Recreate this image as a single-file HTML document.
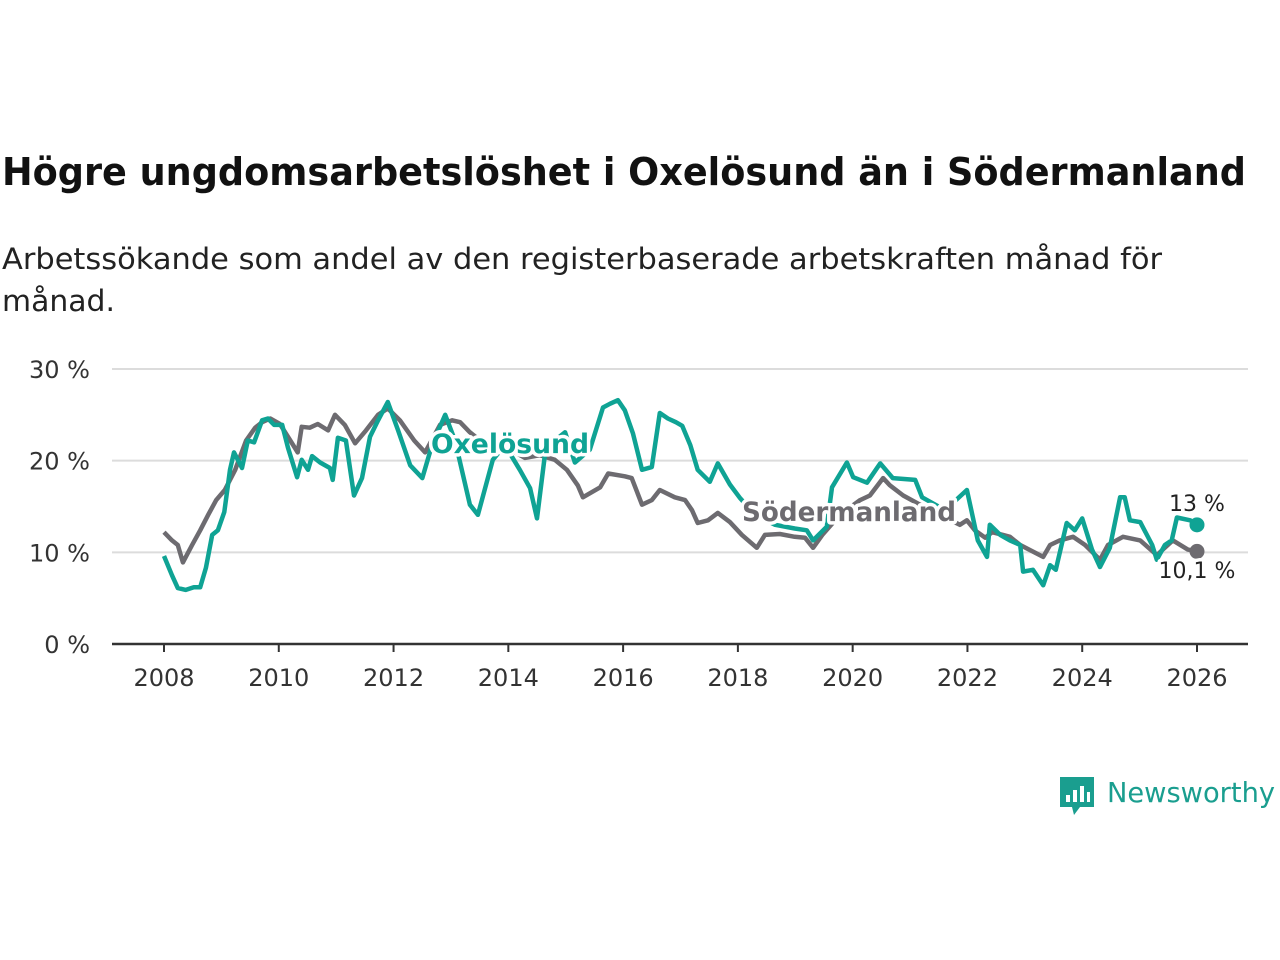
<!DOCTYPE html>
<html><head><meta charset="utf-8"><style>
html,body{margin:0;padding:0;background:#fff;width:1280px;height:960px;overflow:hidden}
svg{display:block}
text{font-family:"DejaVu Sans","Liberation Sans",sans-serif}
</style></head><body>
<svg id="chart" width="1280" height="960" viewBox="0 0 1280 960">
<text x="2" y="185" font-size="38" font-weight="bold" fill="#111" textLength="1244" lengthAdjust="spacingAndGlyphs">Högre ungdomsarbetslöshet i Oxelösund än i Södermanland</text>
<text x="2" y="269" font-size="29" fill="#222" textLength="1160" lengthAdjust="spacingAndGlyphs">Arbetssökande som andel av den registerbaserade arbetskraften månad för</text>
<text x="2" y="311" font-size="29" fill="#222" textLength="113" lengthAdjust="spacingAndGlyphs">månad.</text>
<g id="grid"></g><g id="axes"></g><g id="series"></g><g id="labels"></g>
<g>
<path d="M1060 777 h34 v30 h-14 l-6 8 l-2 -8 h-12 z" fill="#1a9e8f"/>
<rect x="1066" y="795" width="4" height="7" fill="#fff"/><rect x="1073" y="790" width="4" height="12" fill="#fff"/><rect x="1080" y="786" width="4" height="16" fill="#fff"/><rect x="1087" y="792" width="3" height="10" fill="#fff"/>
<text x="1107" y="802" font-size="28" fill="#1a9e8f" textLength="168" lengthAdjust="spacingAndGlyphs">Newsworthy</text>
</g>
</svg>
<script>
const yTicks=[0,10,20,30];
const yTickLabels=["0 %","10 %","20 %","30 %"];
const xTicks=[2008,2010,2012,2014,2016,2018,2020,2022,2024,2026];
const oxDates=[2008.00,2008.14,2008.24,2008.38,2008.52,2008.63,2008.73,2008.84,2008.94,2009.05,2009.15,2009.22,2009.36,2009.46,2009.57,2009.71,2009.81,2009.92,2010.06,2010.16,2010.32,2010.40,2010.51,2010.58,2010.72,2010.89,2010.94,2011.03,2011.17,2011.31,2011.45,2011.59,2011.73,2011.90,2012.08,2012.29,2012.50,2012.67,2012.90,2013.07,2013.33,2013.47,2013.73,2013.94,2014.20,2014.38,2014.50,2014.64,2014.81,2014.99,2015.16,2015.42,2015.65,2015.77,2015.91,2016.03,2016.17,2016.33,2016.50,2016.64,2016.78,2016.92,2017.03,2017.17,2017.30,2017.51,2017.65,2017.86,2018.04,2018.30,2018.65,2018.99,2019.20,2019.31,2019.55,2019.64,2019.90,2020.01,2020.25,2020.48,2020.70,2021.09,2021.21,2021.61,2021.99,2022.06,2022.18,2022.34,2022.39,2022.57,2022.74,2022.92,2022.97,2023.14,2023.32,2023.44,2023.54,2023.73,2023.87,2024.00,2024.17,2024.31,2024.48,2024.66,2024.74,2024.83,2025.01,2025.22,2025.30,2025.44,2025.56,2025.65,2025.88,2026.00];
const oxValues=[9.6,7.5,6.1,5.9,6.2,6.2,8.3,11.9,12.4,14.4,19.0,20.9,19.2,22.2,22.0,24.4,24.6,23.9,23.9,21.4,18.2,20.1,19.0,20.5,19.8,19.2,17.9,22.5,22.2,16.2,18.1,22.6,24.4,26.4,23.3,19.5,18.1,21.7,25.0,22.2,15.2,14.1,20.1,21.7,19.0,17.0,13.7,20.8,22.2,23.1,19.8,21.2,25.8,26.2,26.6,25.5,23.0,19.0,19.3,25.2,24.6,24.2,23.8,21.7,19.0,17.7,19.7,17.4,15.9,14.1,13.0,12.6,12.4,11.3,12.8,17.1,19.8,18.2,17.6,19.7,18.1,17.9,16.0,14.6,16.8,14.8,11.3,9.5,13.0,11.9,11.3,10.8,7.9,8.1,6.4,8.6,8.1,13.2,12.4,13.7,10.3,8.4,10.5,16.0,16.0,13.5,13.3,10.8,9.2,10.8,11.3,13.8,13.5,13.0];
const sodDates=[2008.00,2008.14,2008.24,2008.33,2008.49,2008.63,2008.77,2008.91,2009.06,2009.24,2009.43,2009.59,2009.71,2009.85,2010.02,2010.20,2010.33,2010.40,2010.54,2010.68,2010.86,2010.98,2011.15,2011.33,2011.52,2011.73,2011.90,2012.11,2012.36,2012.55,2012.81,2013.02,2013.16,2013.33,2013.51,2013.68,2014.03,2014.29,2014.55,2014.81,2015.02,2015.21,2015.30,2015.60,2015.74,2016.03,2016.15,2016.33,2016.50,2016.64,2016.90,2017.08,2017.20,2017.30,2017.48,2017.65,2017.86,2018.07,2018.33,2018.47,2018.73,2018.99,2019.17,2019.31,2019.47,2019.78,2020.13,2020.30,2020.53,2020.65,2020.88,2021.35,2021.87,2021.99,2022.13,2022.31,2022.43,2022.62,2022.74,2022.92,2023.32,2023.44,2023.61,2023.84,2024.05,2024.31,2024.45,2024.71,2025.01,2025.30,2025.58,2025.84,2026.00];
const sodValues=[12.2,11.3,10.8,8.9,10.8,12.4,14.1,15.7,16.8,19.0,22.2,23.6,24.2,24.6,24.0,22.2,20.9,23.7,23.6,24.0,23.3,25.0,23.9,21.9,23.3,25.0,25.7,24.4,22.2,20.9,23.9,24.4,24.2,23.1,22.2,21.7,21.2,20.3,20.6,20.1,19.0,17.3,16.0,17.1,18.6,18.3,18.1,15.2,15.7,16.8,16.0,15.7,14.6,13.2,13.5,14.3,13.3,11.9,10.5,11.9,12.0,11.7,11.6,10.5,11.9,14.1,15.7,16.2,18.1,17.3,16.2,14.6,13.0,13.5,12.4,11.6,12.2,11.9,11.7,10.8,9.5,10.8,11.3,11.7,10.8,9.2,10.8,11.7,11.3,9.7,11.3,10.3,10.1];
const endLabels=["13 %","10,1 %"];
const NS="http://www.w3.org/2000/svg";
const X0=164,X1=1197,Y0=644,Y30=369;
function sx(t){return X0+(t-2008)*(X1-X0)/18;}
function sy(v){return Y0-v*(Y0-Y30)/30;}
function mk(tag,attrs,parent){const e=document.createElementNS(NS,tag);for(const k in attrs)e.setAttribute(k,attrs[k]);parent.appendChild(e);return e;}
const grid=document.getElementById('grid'),axes=document.getElementById('axes'),ser=document.getElementById('series'),lab=document.getElementById('labels');
yTicks.forEach((v,i)=>{
 if(v>0){const g=mk('line',{x1:112,x2:1248,y1:sy(v),y2:sy(v),stroke:'#dcdcdc','stroke-width':2},grid);
 
 }
 const t=mk('text',{x:90,y:sy(v)+9,'font-size':24,fill:'#333','text-anchor':'end'},axes);t.textContent=yTickLabels[i];
 
 
});
const ax=mk('line',{x1:112,x2:1248,y1:Y0,y2:Y0,stroke:'#333','stroke-width':2.5},axes);


xTicks.forEach(t=>{
 const tk=mk('line',{x1:sx(t),x2:sx(t),y1:Y0,y2:Y0+8,stroke:'#333','stroke-width':2},axes);
 
 
 const l=mk('text',{x:sx(t),y:686,'font-size':24,fill:'#333','text-anchor':'middle'},axes);l.textContent=t;
 
 
});
function path(d,v){return d.map((t,i)=>(i?'L':'M')+sx(t).toFixed(1)+' '+sy(v[i]).toFixed(1)).join(' ');}
const sl=mk('path',{d:path(sodDates,sodValues),fill:'none',stroke:'#6d6b70','stroke-width':4.5,'stroke-linejoin':'round'},ser);


const ol=mk('path',{d:path(oxDates,oxValues),fill:'none',stroke:'#0fa394','stroke-width':4.5,'stroke-linejoin':'round'},ser);


const od=mk('circle',{cx:sx(oxDates[oxDates.length-1]),cy:sy(oxValues[oxValues.length-1]),r:7.5,fill:'#0fa394'},ser);


const sd=mk('circle',{cx:sx(sodDates[sodDates.length-1]),cy:sy(sodValues[sodValues.length-1]),r:7.5,fill:'#6d6b70'},ser);


const halo={stroke:'#fff','stroke-width':7,'paint-order':'stroke','stroke-linejoin':'round'};
const l1=mk('text',Object.assign({x:510,y:453,'font-size':27,'font-weight':'bold',fill:'#0fa394','text-anchor':'middle',textLength:158,lengthAdjust:'spacingAndGlyphs'},halo),lab);l1.textContent='Oxelösund';


const l2=mk('text',Object.assign({x:849,y:521,'font-size':27,'font-weight':'bold',fill:'#6d6b70','text-anchor':'middle',textLength:214,lengthAdjust:'spacingAndGlyphs'},halo),lab);l2.textContent='Södermanland';


const e1=mk('text',Object.assign({x:1197,y:511,'font-size':22,fill:'#222','text-anchor':'middle'},halo),lab);e1.textContent=endLabels[0];


const e2=mk('text',Object.assign({x:1197,y:578,'font-size':22,fill:'#222','text-anchor':'middle'},halo),lab);e2.textContent=endLabels[1];


</script>
</body></html>
